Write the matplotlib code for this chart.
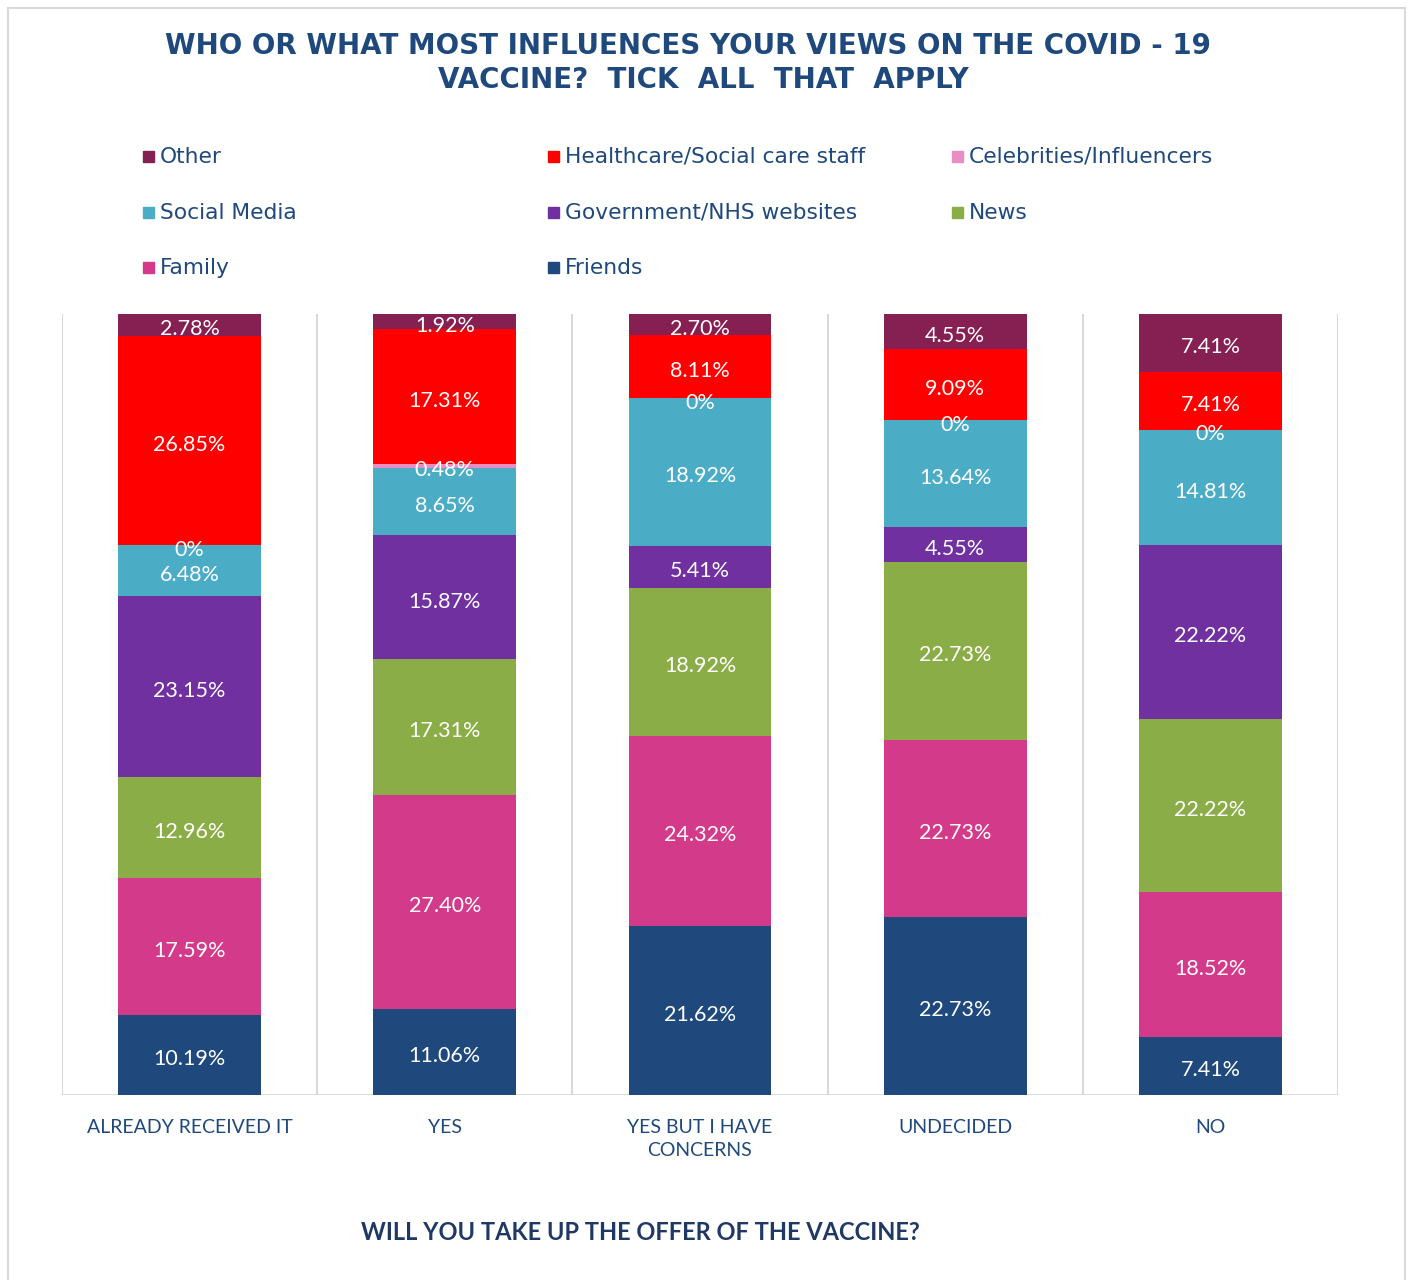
import matplotlib
matplotlib.use('Agg')
import numpy as np
import matplotlib.pyplot as plt
from matplotlib.patches import Rectangle

# Data (percent of respondents per answer group)
categories = ['ALREADY RECEIVED IT', 'YES', 'YES BUT I HAVE\nCONCERNS', 'UNDECIDED', 'NO']
friends = [10.19, 11.06, 21.62, 22.73, 7.41]
family = [17.59, 27.40, 24.32, 22.73, 18.52]
news = [12.96, 17.31, 18.92, 22.73, 22.22]
government = [23.15, 15.87, 5.41, 4.55, 22.22]
social_media = [6.48, 8.65, 18.92, 13.64, 14.81]
celebrities = [0, 0.48, 0, 0, 0]
healthcare = [26.85, 17.31, 8.11, 9.09, 7.41]
other = [2.78, 1.92, 2.70, 4.55, 7.41]

series_names = ['Friends', 'Family', 'News', 'Government/NHS websites', 'Social Media',
                'Celebrities/Influencers', 'Healthcare/Social care staff', 'Other']
series_values = [friends, family, news, government, social_media, celebrities, healthcare, other]
colors = ['#1F497D', '#D33A89', '#8BAD47', '#7030A0', '#4BACC6', '#E88EC3', '#FF0000', '#861F52']

DARK = '#1F497D'
W, H = 1409, 1280

fig = plt.figure(figsize=(W / 100, H / 100), dpi=100)
ax = fig.add_axes([62 / W, 1 - 1095 / H, (1338 - 62) / W, (1095 - 314) / H])

x = np.arange(len(categories))
bottom = np.zeros(len(categories))
for name, vals, col in zip(series_names, series_values, colors):
    vals = np.array(vals, dtype=float)
    ax.bar(x, vals, width=0.56, bottom=bottom, color=col, label=name, zorder=3)
    for xi, b, v in zip(x, bottom, vals):
        txt = f"{v:.2f}%" if v > 0 else "0%"
        ax.annotate(txt, (xi, b + v / 2), xytext=(0, -3), textcoords='offset points',
                    ha='center', va='center', color='white',
                    fontsize=15.5, family='Lato', zorder=4)
    bottom += vals

# gridlines between categories
for gx in np.arange(-0.5, len(categories), 1.0):
    ax.axvline(gx, color='#D9D9D9', lw=1.5, zorder=1)
ax.axhline(0, color='#D9D9D9', lw=2, zorder=2)

ax.set_xlim(-0.5, len(categories) - 0.5)
ax.set_ylim(0, 100)
ax.set_yticks([])
ax.set_xticks(x)
ax.set_xticklabels(categories, fontsize=14, family='Lato', color=DARK, linespacing=1.45)
ax.tick_params(axis='x', length=0, pad=17)
for s in ax.spines.values():
    s.set_visible(False)

# title
fig.text(688 / W, 1 - 46 / H, 'WHO OR WHAT MOST INFLUENCES YOUR VIEWS ON THE COVID - 19',
         ha='center', va='center', fontsize=20, fontweight='bold', color=DARK)
fig.text(703 / W, 1 - 80 / H, 'VACCINE?  TICK  ALL  THAT  APPLY',
         ha='center', va='center', fontsize=20, fontweight='bold', color=DARK)

# legend laid out like the original (row-wise, reversed stack order)
legend_rows = [['Other', 'Healthcare/Social care staff', 'Celebrities/Influencers'],
               ['Social Media', 'Government/NHS websites', 'News'],
               ['Family', 'Friends']]
col_x = [143, 548, 952]
row_y = [156, 212, 267]
for r, row in enumerate(legend_rows):
    for c, name in enumerate(row):
        col = colors[series_names.index(name)]
        fig.add_artist(Rectangle((col_x[c] / W, 1 - (row_y[r] + 6) / H), 11 / W, 11 / H,
                                 transform=fig.transFigure, color=col))
        fig.text((col_x[c] + 17) / W, 1 - (row_y[r] + 1) / H, name, ha='left', va='center',
                 fontsize=15.7, color=DARK)

# x axis title
fig.text(640 / W, 1 - 1232 / H, 'WILL YOU TAKE UP THE OFFER OF THE VACCINE?',
         ha='center', va='center', fontsize=17, fontweight='bold', family='Lato', color='#1F3864')

# outer chart frame
fig.add_artist(Rectangle((8 / W, -0.01), (1405 - 8) / W, 1.01 - 8 / H, transform=fig.transFigure,
                         fill=False, edgecolor='#D9D9D9', lw=1.5))

fig.savefig('out.png', dpi=100)
